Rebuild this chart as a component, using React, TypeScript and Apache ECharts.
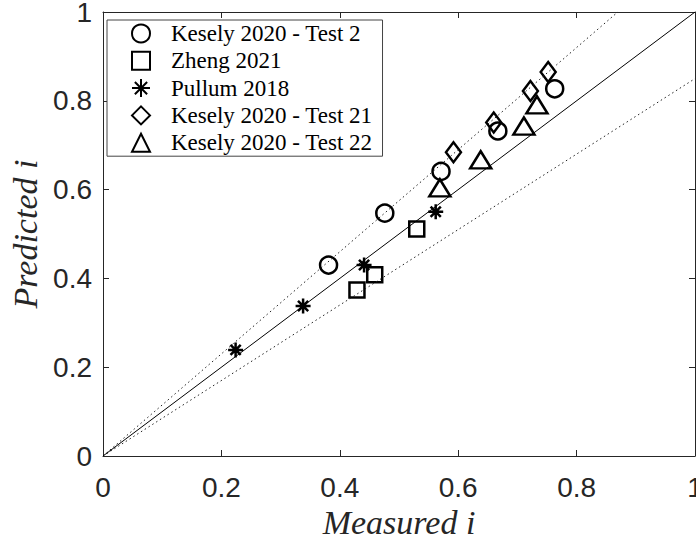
import React, { useEffect, useRef } from "react";
import * as echarts from "echarts";

// ---- data (measured i, predicted i) ----
const seriesNames = [
  "Kesely 2020 - Test 2",
  "Zheng 2021",
  "Pullum 2018",
  "Kesely 2020 - Test 21",
  "Kesely 2020 - Test 22",
];
const keselyTest2 = [[0.381, 0.430], [0.476, 0.547], [0.571, 0.641], [0.667, 0.732], [0.763, 0.827]];
const zheng2021 = [[0.429, 0.374], [0.459, 0.408], [0.530, 0.511]];
const pullum2018 = [[0.224, 0.239], [0.338, 0.338], [0.441, 0.430], [0.562, 0.550]];
const keselyTest21 = [[0.592, 0.684], [0.660, 0.751], [0.722, 0.822], [0.752, 0.865]];
const keselyTest22 = [[0.569, 0.604], [0.638, 0.667], [0.711, 0.743], [0.733, 0.791]];

// reference lines: perfect agreement and +/-15 % band
const perfectLine = [[0, 0], [1, 1]];
const upperBand = [[0, 0], [0.8696, 1]];
const lowerBand = [[0, 0], [1, 0.85]];

const axisMin = 0;
const axisMax = 1;
const axisStep = 0.2;
const xTitle = "Measured i";
const yTitle = "Predicted i";

const ASTERISK = "path://M5,0L5,10M0,5L10,5M1.6,1.6L8.4,8.4M1.6,8.4L8.4,1.6";

export default function App() {
  const ref = useRef<HTMLDivElement>(null);
  useEffect(() => {
    const chart = echarts.init(ref.current!, null, { renderer: "svg" });
    const axisColor = "#262626";
    const hollow = { color: "rgba(0,0,0,0)", borderColor: "#000", borderWidth: 2.5, opacity: 1 };
    const markerDefs = [
      { data: keselyTest2, symbol: "circle", size: 17 },
      { data: zheng2021, symbol: "rect", size: 15 },
      { data: pullum2018, symbol: ASTERISK, size: 15 },
      { data: keselyTest21, symbol: "diamond", size: [15, 20] },
      { data: keselyTest22, symbol: "triangle", size: [21, 17] },
    ];
    const baseX = {
      type: "value",
      min: axisMin,
      max: axisMax,
      interval: axisStep,
      splitLine: { show: false },
      axisLine: { show: true, onZero: false, lineStyle: { color: axisColor, width: 1 } },
      axisTick: { show: true, inside: true, length: 6, lineStyle: { color: axisColor } },
    };
    const labelStyle = { color: axisColor, fontFamily: "Liberation Sans", fontSize: 28, lineHeight: 20 };
    const titleStyle = { color: axisColor, fontFamily: "Liberation Serif", fontStyle: "italic", fontSize: 34 };
    chart.setOption({
      animation: false,
      backgroundColor: "#fff",
      grid: { left: 103, top: 12, right: 1, bottom: 84, outerBoundsMode: "none", containLabel: false },
      xAxis: [
        {
          ...baseX,
          position: "bottom",
          name: xTitle,
          nameLocation: "middle",
          nameGap: 44,
          nameTextStyle: titleStyle,
          axisLabel: { ...labelStyle, margin: 21 },
        },
        { ...baseX, position: "top", axisLabel: { show: false } },
      ],
      yAxis: [
        {
          ...baseX,
          position: "left",
          name: yTitle,
          nameLocation: "middle",
          nameGap: 58,
          nameTextStyle: titleStyle,
          axisLabel: { ...labelStyle, margin: 11 },
        },
        { ...baseX, position: "right", axisLabel: { show: false } },
      ],
      legend: {
        data: seriesNames,
        orient: "vertical",
        left: 107,
        top: 20,
        padding: [2, 10, 2, 24],
        itemGap: 4.3,
        itemWidth: 18,
        itemHeight: 18,
        backgroundColor: "#fff",
        borderColor: "#444",
        borderWidth: 1,
        borderRadius: 0,
        formatter: (n: string) => `{g|}${n}`,
        textStyle: {
          color: "#000",
          fontFamily: "Liberation Serif",
          fontSize: 23,
          rich: { g: { width: 16 } },
        },
      },
      series: [
        {
          type: "line",
          data: upperBand,
          symbol: "none",
          silent: true,
          lineStyle: { color: "#222", width: 1, type: [1.5, 3] },
        },
        {
          type: "line",
          data: lowerBand,
          symbol: "none",
          silent: true,
          lineStyle: { color: "#222", width: 1, type: [1.5, 3] },
        },
        {
          type: "line",
          data: perfectLine,
          symbol: "none",
          silent: true,
          lineStyle: { color: "#000", width: 1 },
        },
        ...markerDefs.map((m, i) => ({
          type: "scatter",
          name: seriesNames[i],
          data: m.data,
          symbol: m.symbol,
          symbolSize: m.size,
          itemStyle: hollow,
        })),
      ],
    });
    return () => chart.dispose();
  }, []);
  return (
    <div
      ref={ref}
      style={{ position: "fixed", left: 0, top: 0, width: 696, height: 540, background: "#fff" }}
    />
  );
}
